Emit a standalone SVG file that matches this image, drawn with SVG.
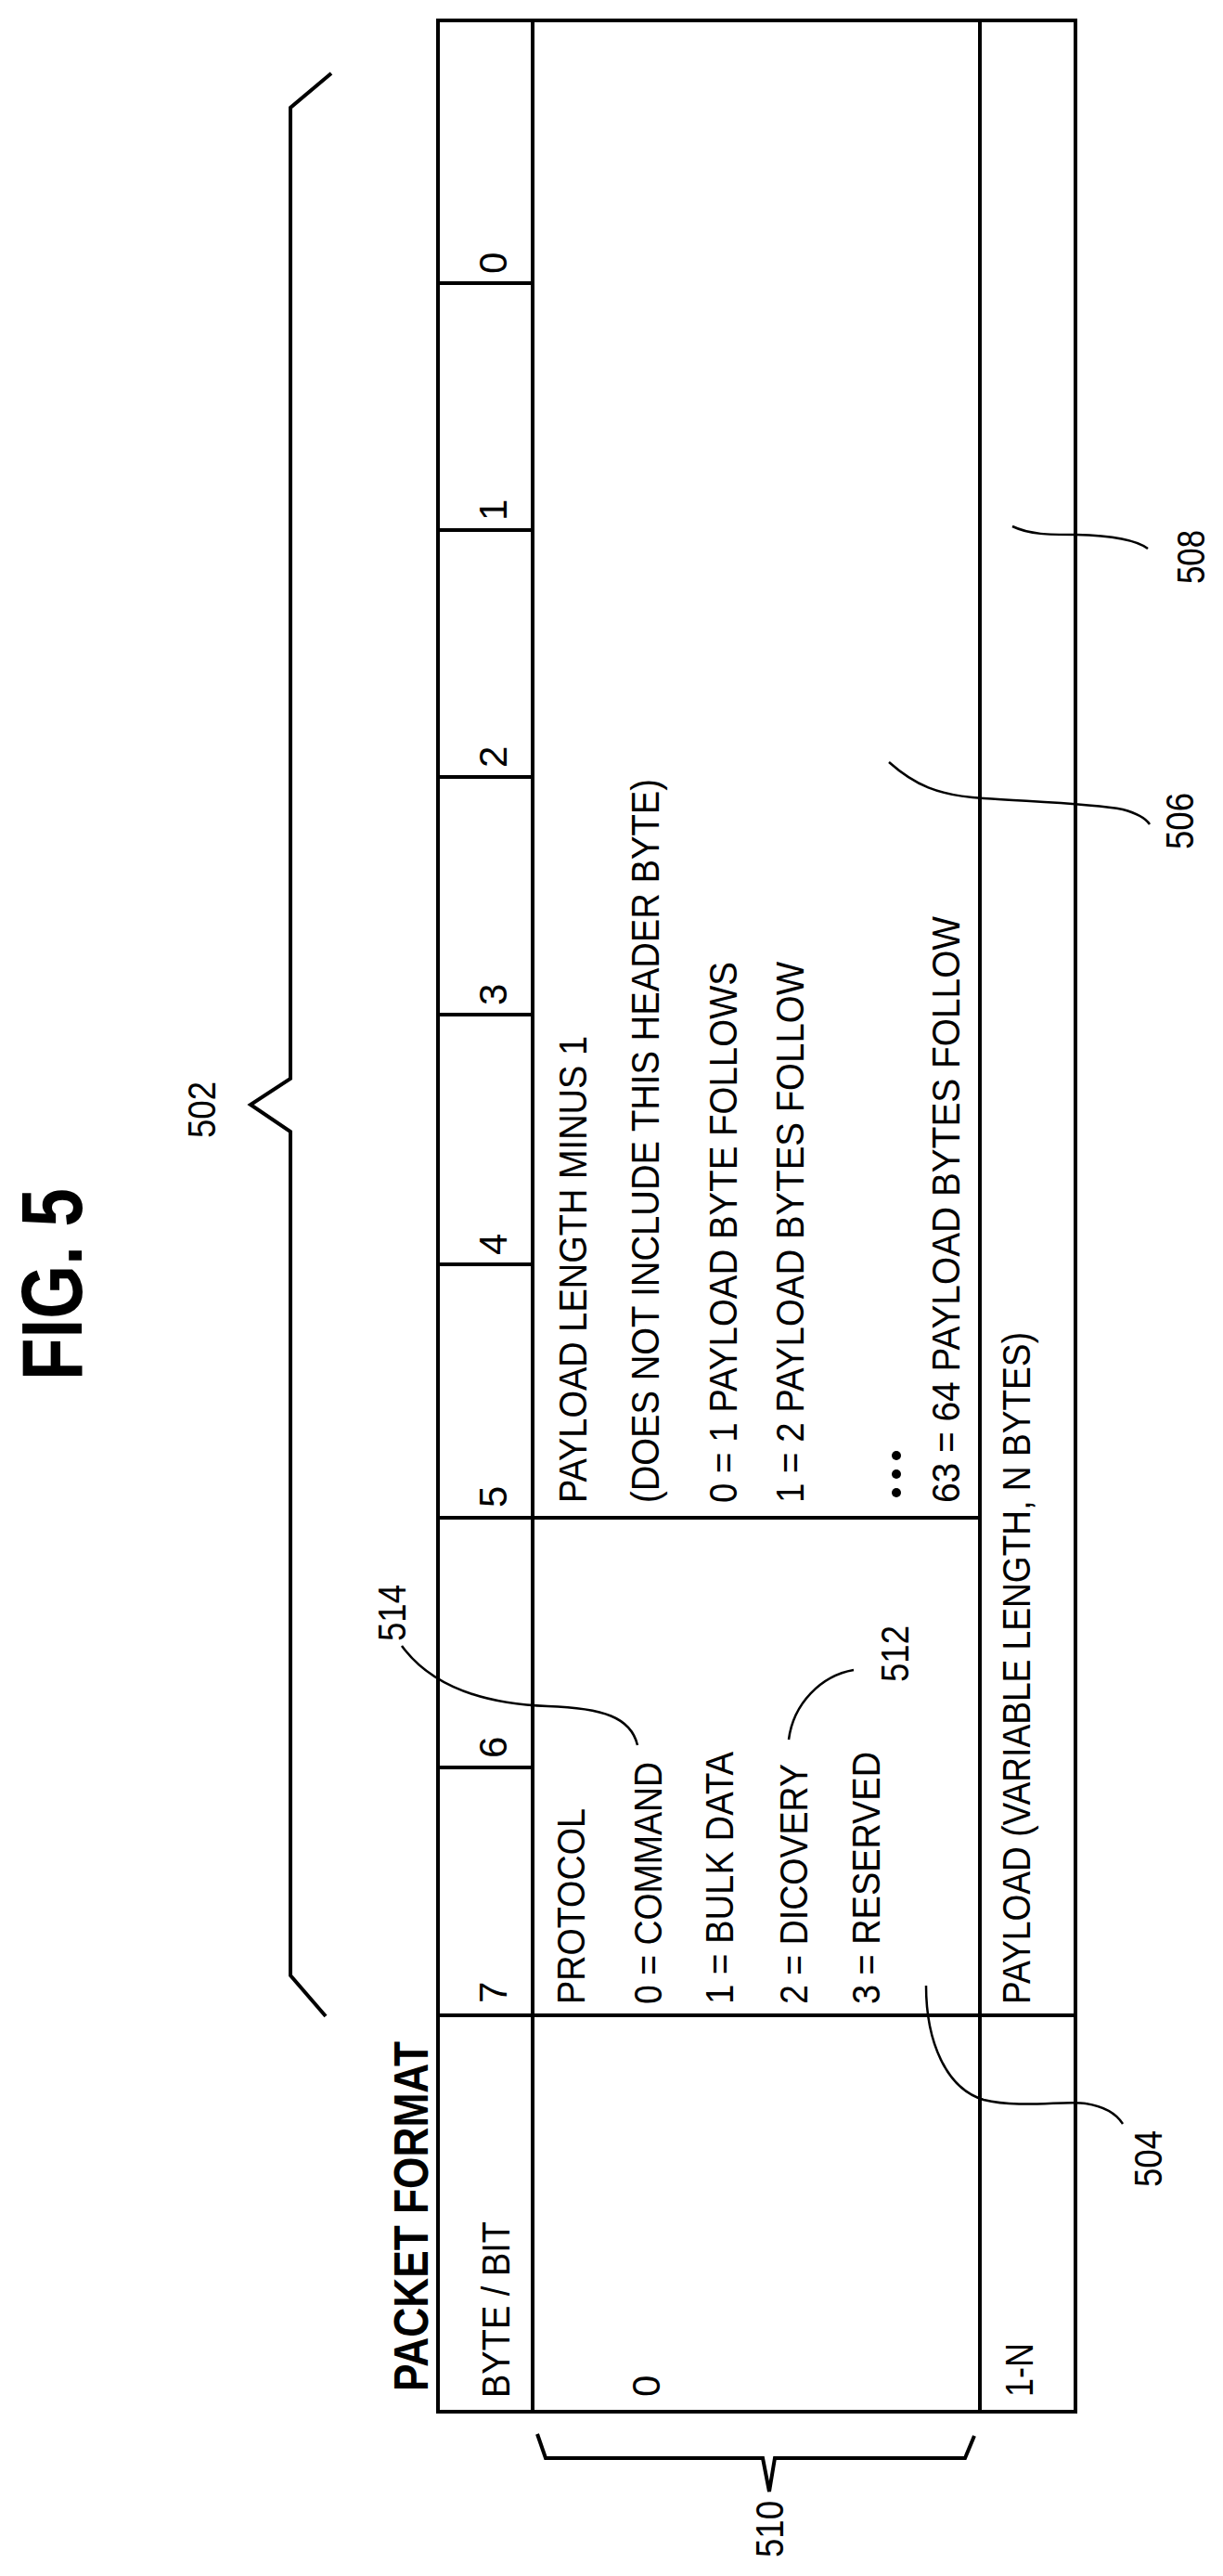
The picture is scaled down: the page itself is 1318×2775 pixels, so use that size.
<svg xmlns="http://www.w3.org/2000/svg" width="1318" height="2775" viewBox="0 0 1318 2775">
<style>
.t{font-family:"Liberation Sans",Arial,sans-serif;font-size:42px;fill:#000}
.b{font-family:"Liberation Sans",Arial,sans-serif;font-weight:bold;fill:#000}
.g{fill:none;stroke:#000;stroke-width:4}
.l{fill:none;stroke:#000;stroke-width:2.5}
</style>
<rect width="1318" height="2775" fill="#fff"/>
<g id="title">
<text class="b" font-size="93" transform="translate(88,1487) rotate(-90)" textLength="207" lengthAdjust="spacingAndGlyphs">FIG. 5</text>
<text class="b" font-size="52" transform="translate(461,2576) rotate(-90)" textLength="377" lengthAdjust="spacingAndGlyphs">PACKET FORMAT</text>
</g>
<g id="table">
<rect class="g" x="472" y="22" width="687" height="2576"/>
<line class="g" x1="574" y1="22" x2="574" y2="2598"/>
<line class="g" x1="1056" y1="22" x2="1056" y2="2598"/>
<line class="g" x1="472" y1="2171" x2="1159" y2="2171"/>
<line class="g" x1="472" y1="1635" x2="1056" y2="1635"/>
<line class="g" x1="472" y1="305" x2="574" y2="305"/>
<line class="g" x1="472" y1="571" x2="574" y2="571"/>
<line class="g" x1="472" y1="837" x2="574" y2="837"/>
<line class="g" x1="472" y1="1093" x2="574" y2="1093"/>
<line class="g" x1="472" y1="1362" x2="574" y2="1362"/>
<line class="g" x1="472" y1="1904" x2="574" y2="1904"/>
</g>
<g id="bits">
<text class="t" transform="translate(546,295) rotate(-90)">0</text>
<text class="t" transform="translate(546,561) rotate(-90)">1</text>
<text class="t" transform="translate(546,827) rotate(-90)">2</text>
<text class="t" transform="translate(546,1083) rotate(-90)">3</text>
<text class="t" transform="translate(546,1352) rotate(-90)">4</text>
<text class="t" transform="translate(546,1624) rotate(-90)">5</text>
<text class="t" transform="translate(546,1894) rotate(-90)">6</text>
<text class="t" transform="translate(546,2158) rotate(-90)">7</text>
<text class="t" transform="translate(549,2583) rotate(-90)" textLength="190" lengthAdjust="spacingAndGlyphs">BYTE / BIT</text>
<text class="t" transform="translate(711,2582) rotate(-90)">0</text>
<text class="t" transform="translate(1113,2582) rotate(-90)" textLength="58" lengthAdjust="spacingAndGlyphs">1-N</text>
</g>
<g id="protocol-504">
<text class="t" transform="translate(630,2159) rotate(-90)" textLength="211" lengthAdjust="spacingAndGlyphs">PROTOCOL</text>
<text class="t" transform="translate(713,2159) rotate(-90)" textLength="261" lengthAdjust="spacingAndGlyphs">0 = COMMAND</text>
<text class="t" transform="translate(790,2159) rotate(-90)" textLength="272" lengthAdjust="spacingAndGlyphs">1 = BULK DATA</text>
<text class="t" transform="translate(870,2159) rotate(-90)" textLength="259" lengthAdjust="spacingAndGlyphs">2 = DICOVERY</text>
<text class="t" transform="translate(948,2159) rotate(-90)" textLength="272" lengthAdjust="spacingAndGlyphs">3 = RESERVED</text>
</g>
<g id="length-506">
<text class="t" transform="translate(632,1619) rotate(-90)" textLength="503" lengthAdjust="spacingAndGlyphs">PAYLOAD LENGTH MINUS 1</text>
<text class="t" transform="translate(710,1619) rotate(-90)" textLength="780" lengthAdjust="spacingAndGlyphs">(DOES NOT INCLUDE THIS HEADER BYTE)</text>
<text class="t" transform="translate(794,1619) rotate(-90)" textLength="583" lengthAdjust="spacingAndGlyphs">0 = 1 PAYLOAD BYTE FOLLOWS</text>
<text class="t" transform="translate(866,1619) rotate(-90)" textLength="583" lengthAdjust="spacingAndGlyphs">1 = 2 PAYLOAD BYTES FOLLOW</text>
<circle cx="966" cy="1568" r="5"/><circle cx="966" cy="1588" r="5"/><circle cx="966" cy="1608" r="5"/>
<text class="t" transform="translate(1034,1619) rotate(-90)" textLength="632" lengthAdjust="spacingAndGlyphs">63 = 64 PAYLOAD BYTES FOLLOW</text>
</g>
<g id="payload-508">
<text class="t" transform="translate(1110,2159) rotate(-90)" textLength="724" lengthAdjust="spacingAndGlyphs">PAYLOAD (VARIABLE LENGTH, N BYTES)</text>
</g>
<g id="brace-502">
<polyline class="g" points="357,79 313,116 313,1162 270,1190 313,1219 313,2128 351,2172"/>
<text class="t" font-size="44" transform="translate(232,1226) rotate(-90)" textLength="61" lengthAdjust="spacingAndGlyphs">502</text>
</g>
<g id="brace-510">
<polyline class="g" points="579,2622 588,2648 822,2648 829,2684 835,2648 1040,2648 1050,2624"/>
<text class="t" font-size="44" transform="translate(844,2755) rotate(-90)" textLength="61" lengthAdjust="spacingAndGlyphs">510</text>
</g>
<g id="labels">
<text class="t" font-size="44" transform="translate(1252,2356) rotate(-90)" textLength="61" lengthAdjust="spacingAndGlyphs">504</text>
<text class="t" font-size="44" transform="translate(437,1768) rotate(-90)" textLength="61" lengthAdjust="spacingAndGlyphs">514</text>
<text class="t" font-size="44" transform="translate(979,1812) rotate(-90)" textLength="61" lengthAdjust="spacingAndGlyphs">512</text>
<text class="t" font-size="44" transform="translate(1286,915) rotate(-90)" textLength="61" lengthAdjust="spacingAndGlyphs">506</text>
<text class="t" font-size="44" transform="translate(1298,629) rotate(-90)" textLength="58" lengthAdjust="spacingAndGlyphs">508</text>
</g>
<g id="connectors">
<path class="l" d="M998,2139 C998,2200 1020,2250 1060,2262 C1100,2272 1150,2262 1170,2266 C1195,2270 1205,2280 1210,2288"/>
<path class="l" d="M687,1880 C680,1850 650,1840 590,1838 C510,1835 460,1810 433,1773"/>
<path class="l" d="M850,1874 C855,1835 885,1805 920,1799"/>
<path class="l" d="M958,821 C985,845 1010,857 1060,860 C1120,864 1180,866 1210,872 C1225,876 1235,882 1239,888"/>
<path class="l" d="M1091,567 C1110,576 1130,576 1160,576 C1200,577 1225,582 1237,591"/>
</g>
</svg>
